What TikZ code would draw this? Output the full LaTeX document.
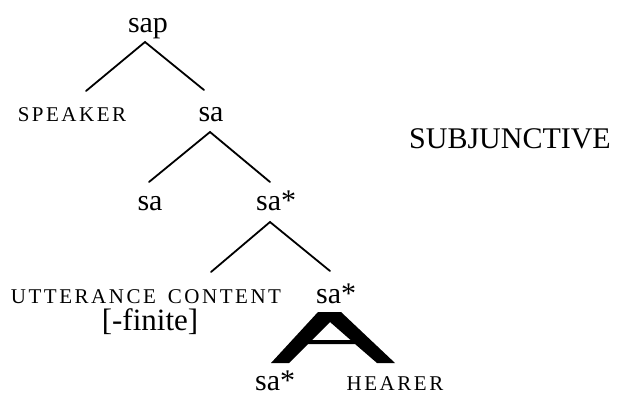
\documentclass[tikz,border=0pt]{standalone}
\usepackage{fontspec}
\setmainfont{Liberation Serif}
\usetikzlibrary{calc}
\begin{document}
\begin{tikzpicture}[x=1pt,y=-1pt,
  lab/.style={inner sep=0pt, anchor=base, font=\fontsize{30}{31}\selectfont},
  star/.style={lab, anchor=base west},
  capsmall/.style={inner sep=0pt, anchor=base, font=\fontsize{21}{22}\selectfont\addfontfeature{LetterSpace=12}},
  biglab/.style={inner sep=0pt, anchor=base, font=\fontsize{30}{31}\selectfont},
  branch/.style={line width=1.8pt, line cap=round},
]
\useasboundingbox (0,0) rectangle (618,397);

% nodes
\node[lab] (sap) at (148,32) {sap};
\node[capsmall] (speaker) at (72,121) {SPEAKER};
\node[lab] (sa1) at (211,121) {sa};
\node[biglab] (subj) at (510,148) {SUBJUNCTIVE};
\node[lab] (sa2) at (150,210) {sa};
\node[star] (sas1) at (256,210) {sa*};
\node[capsmall] (utt) at (146,303) {UTTERANCE\hspace{12pt}CONTENT};
\node[biglab, font=\fontsize{31}{32}\selectfont] (fin) at (150,330) {[-finite]};
\node[star] (sas2) at (316,303) {sa*};
\node[star] (sas3) at (255,390) {sa*};
\node[capsmall] (hearer) at (395,390) {HEARER};

% branch points
\coordinate (sapB) at ($(sap.base)+(-3,10)$);
\coordinate (spkT) at ($(speaker.base)+(14,-30)$);
\coordinate (sa1T) at ($(sa1.base)+(-7,-31)$);
\coordinate (sa1B) at ($(sa1.base)+(-1,11)$);
\coordinate (sa2T) at ($(sa2.base)+(-1,-28)$);
\coordinate (sas1T) at ($(sas1.base west)+(14,-28)$);
\coordinate (sas1B) at ($(sas1.base west)+(14,12)$);
\coordinate (uttT) at ($(utt.base)+(65,-31)$);
\coordinate (sas2T) at ($(sas2.base west)+(14,-32)$);

\draw[branch] (spkT) -- (sapB) -- (sa1T);
\draw[branch] (sa2T) -- (sa1B) -- (sas1T);
\draw[branch] (uttT) -- (sas1B) -- (sas2T);

% thick triangle (abbreviated subtree)
\fill[even odd rule]
  (271,363) -- (318,312) -- (341,312) -- (395,363) -- (377,363) -- (355,344)
  -- (308,344) -- (289,363) -- cycle
  (330,322) -- (312,340) -- (350.6,340) -- cycle;
\end{tikzpicture}
\end{document}
